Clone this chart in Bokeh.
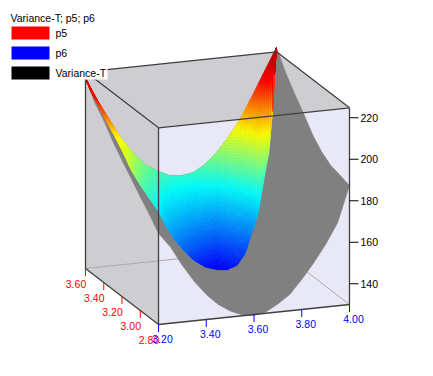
import numpy as np
from bokeh.plotting import figure
from bokeh.models import Range1d
from bokeh.core.properties import value
from bokeh.embed import file_html
from bokeh.resources import INLINE

# ---- data ----
legend_title = "Variance-T; p5; p6"
legend_names = ["p5", "p6", "Variance-T"]
legend_colors = ["#FF0000", "#0000FF", "#000000"]

p5_ticks = [3.60, 3.40, 3.20, 3.00, 2.80]
p6_ticks = [3.20, 3.40, 3.60, 3.80, 4.00]
var_ticks = [140, 160, 180, 200, 220]

# surface edge at p5 = 3.60
back_p6 = [3.20, 3.25, 3.30, 3.35, 3.40, 3.45, 3.50, 3.55, 3.60, 3.65, 3.70, 3.75, 3.80, 3.85, 3.90, 3.95, 4.00]
back_var = [221.6, 210.4, 200.6, 190.6, 183.3, 177.1, 173.5, 170.7, 169.9, 170.8, 174.1, 179.5, 186.4, 194.7, 205.2, 216.2, 226.9]

# edge at p5 = 2.80
front_p6 = back_p6
front_var = [173.9, 166.7, 157.2, 148.9, 142.0, 136.6, 132.9, 130.4, 129.5, 130.6, 133.9, 137.8, 144.5, 151.8, 160.1, 169.9, 187.3]

# edge at p6 = 3.20
left_p5 = [3.60, 3.50, 3.40, 3.30, 3.20, 3.10, 3.00, 2.90, 2.80]
left_var = [221.6, 213.4, 208.1, 201.3, 195.5, 190.2, 184.7, 179.6, 173.9]

# edge at p6 = 4.00
right_p5 = [2.80, 2.90, 3.00, 3.10, 3.20, 3.30, 3.40, 3.50, 3.60]
right_var = [187.3, 188.8, 190.0, 193.1, 198.0, 204.9, 211.2, 218.2, 226.9]

# lower rim of the coloured sheet
rim_p6 = [3.200, 3.230, 3.263, 3.293, 3.333, 3.324, 3.307, 3.340, 3.370, 3.392, 3.422, 3.449, 3.489, 3.538, 3.598,
          3.659, 3.685, 3.714, 3.752, 3.779, 3.802, 3.819, 3.857, 3.896, 3.918, 3.941, 3.968, 3.961, 4.000]
rim_p5 = [3.600, 3.613, 3.623, 3.606, 3.620, 3.505, 3.386, 3.386, 3.368, 3.298, 3.305, 3.283, 3.280, 3.298, 3.327,
          3.358, 3.317, 3.282, 3.291, 3.307, 3.312, 3.320, 3.383, 3.448, 3.470, 3.511, 3.555, 3.524, 3.600]
rim_var = [221.6, 214, 207, 199, 191, 187, 184, 177, 171, 165, 158, 152, 146, 140, 135,
           132, 133, 136, 141, 148, 154, 160, 167, 174, 181, 189, 200, 214, 226.9]

# ---- projection of the 3D box on the page ----
P6_MIN, P6_MAX = 3.2, 4.0
P5_MIN, P5_MAX = 2.8, 3.6
VAR_MIN, VAR_MAX = 130.0, 224.8


def project(p6, p5, var):
    u = (np.asarray(p6, float) - P6_MIN) / (P6_MAX - P6_MIN)
    v = (np.asarray(p5, float) - P5_MIN) / (P5_MAX - P5_MIN)
    z = np.asarray(var, float) - VAR_MIN
    return 158 + 191 * u - 73 * v, 324 - 20 * u - 56 * v - 2.075 * z


STOPS_Z = [128, 133, 166, 190, 212, 228]
STOPS_R = [0, 0, 0, 255, 255, 165]
STOPS_G = [0, 0, 255, 255, 0, 0]
STOPS_B = [225, 255, 255, 0, 0, 0]


def var_color(z):
    z = round(z / 1.5) * 1.5
    r = int(np.interp(z, STOPS_Z, STOPS_R))
    g = int(np.interp(z, STOPS_Z, STOPS_G))
    b = int(np.interp(z, STOPS_Z, STOPS_B))
    return f"#{r:02X}{g:02X}{b:02X}"


p = figure(width=417, height=360, output_backend="svg", toolbar_location=None,
           x_range=Range1d(0, 417), y_range=Range1d(360, 0),
           x_axis_location=None, y_axis_location=None, min_border=0,
           background_fill_color="white", border_fill_color="white")
p.outline_line_color = None
p.grid.visible = False

FONT = value("Liberation Sans")
FS = "10.5px"

# ---- box faces ----
def corner(a, b, c):
    x, y = project(a, b, c)
    return float(x), float(y)


c_fbl = corner(P6_MIN, P5_MIN, VAR_MIN)
c_fbr = corner(P6_MAX, P5_MIN, VAR_MIN)
c_ftl = corner(P6_MIN, P5_MIN, VAR_MAX)
c_ftr = corner(P6_MAX, P5_MIN, VAR_MAX)
c_bbl = corner(P6_MIN, P5_MAX, VAR_MIN)
c_bbr = corner(P6_MAX, P5_MAX, VAR_MIN)
c_btl = corner(P6_MIN, P5_MAX, VAR_MAX)
c_btr = corner(P6_MAX, P5_MAX, VAR_MAX)


def face(cs, color):
    p.patch([c[0] for c in cs], [c[1] for c in cs], fill_color=color, line_color=color, line_width=0.5)


def edge(a, b, color="#404040", width=1.3):
    p.line([a[0], b[0]], [a[1], b[1]], line_color=color, line_width=width)


face([c_btl, c_ftl, c_fbl, c_bbl], "#CECED2")
face([c_btl, c_btr, c_ftr, c_ftl], "#CECED2")
face([c_ftl, c_ftr, c_fbr, c_fbl], "#E8E8F6")
edge(c_bbl, c_bbr, "#ABABAB", 1)
edge(c_bbr, c_fbr, "#ABABAB", 1)

# ---- underside of the surface (grey) ----
bx, by = project(back_p6, [P5_MAX] * len(back_p6), back_var)
rx, ry = project([P6_MAX] * len(right_p5), right_p5, right_var)
fx, fy = project(front_p6, [P5_MIN] * len(front_p6), front_var)
lx, ly = project([P6_MIN] * len(left_p5), left_p5, left_var)
outline_x = np.concatenate([bx, rx[::-1], fx[::-1], lx[::-1]])
outline_y = np.concatenate([by, ry[::-1], fy[::-1], ly[::-1]])
p.patch(outline_x, outline_y, fill_color="#808080", line_color="#808080", line_width=0.5)

# ---- coloured sheet, painted in small cells between the two rims ----
mx, my = project(rim_p6, rim_p5, rim_var)
mx = np.maximum.accumulate(mx)
N_COL, N_ROW = 96, 48
col_edges = np.linspace(bx[0], bx[-1], N_COL + 1)
top_y = np.interp(col_edges, bx, by)
top_z = np.interp(col_edges, bx, back_var)
bot_y = np.maximum(np.interp(col_edges, mx, my), top_y)
bot_z = np.interp(col_edges, mx, rim_var)
cell_x, cell_y, cell_c = [], [], []
for i in range(N_COL):
    for j in range(N_ROW):
        t0, t1 = j / N_ROW, (j + 1) / N_ROW
        y00 = top_y[i] + (bot_y[i] - top_y[i]) * t0
        y01 = top_y[i] + (bot_y[i] - top_y[i]) * t1
        y10 = top_y[i + 1] + (bot_y[i + 1] - top_y[i + 1]) * t0
        y11 = top_y[i + 1] + (bot_y[i + 1] - top_y[i + 1]) * t1
        if y01 - y00 < 1e-6 and y11 - y10 < 1e-6:
            continue
        tm = (t0 + t1) / 2
        zm = 0.5 * ((top_z[i] + (bot_z[i] - top_z[i]) * tm) + (top_z[i + 1] + (bot_z[i + 1] - top_z[i + 1]) * tm))
        cell_x.append([col_edges[i], col_edges[i + 1], col_edges[i + 1], col_edges[i]])
        cell_y.append([y00, y10, y11, y01])
        cell_c.append(var_color(zm))
p.patches(cell_x, cell_y, fill_color=cell_c, line_color=cell_c, line_width=0.4)

# ---- box edges over the surface ----
edge(c_btl, c_btr)
edge(c_btl, c_ftl)
edge(c_btr, c_ftr)
edge(c_ftl, c_ftr)
edge(c_ftl, c_fbl)
edge(c_ftr, c_fbr)
edge(c_fbl, c_fbr)
edge(c_bbl, c_fbl)
edge(c_btl, c_bbl)

# ---- ticks and tick labels ----
TICK = 7.5
xs, ys = project([P6_MIN] * len(p5_ticks), p5_ticks, [VAR_MIN] * len(p5_ticks))
p.segment(xs, ys, xs, ys + TICK, line_color="#FF0000", line_width=1)
p.text(xs - 9.5, ys + 15, text=[f"{t:.2f}" for t in p5_ticks], text_color="#FF0000", text_font=FONT,
       text_font_size=FS, text_align="center", text_baseline="middle")
xs, ys = project(p6_ticks, [P5_MIN] * len(p6_ticks), [VAR_MIN] * len(p6_ticks))
p.segment(xs, ys, xs, ys + TICK, line_color="#0000FF", line_width=1)
p.text(xs + 4, ys + 14.5, text=[f"{t:.2f}" for t in p6_ticks], text_color="#0000FF", text_font=FONT,
       text_font_size=FS, text_align="center", text_baseline="middle")
xs, ys = project([P6_MAX] * len(var_ticks), [P5_MIN] * len(var_ticks), var_ticks)
p.segment(xs, ys, xs + 9, ys, line_color="#000000", line_width=1)
p.text(xs + 11, ys, text=[str(t) for t in var_ticks], text_color="#000000", text_font=FONT,
       text_font_size=FS, text_align="left", text_baseline="middle")

# ---- legend ----
p.quad(left=[53], right=[107], top=[65], bottom=[79], fill_color="white", line_color=None)
p.text([10], [17], text=[legend_title], text_color="#000000", text_font=FONT, text_font_size=FS,
       text_align="left", text_baseline="middle")
ly0 = np.arange(len(legend_names)) * 20 + 26
p.quad(left=[11] * 3, right=[49] * 3, top=ly0, bottom=ly0 + 13, fill_color=legend_colors, line_color=None)
p.text([55] * 3, ly0 + 6.5, text=legend_names, text_color="#000000", text_font=FONT, text_font_size=FS,
       text_align="left", text_baseline="middle")

open("out.html", "w").write(file_html(p, INLINE))
